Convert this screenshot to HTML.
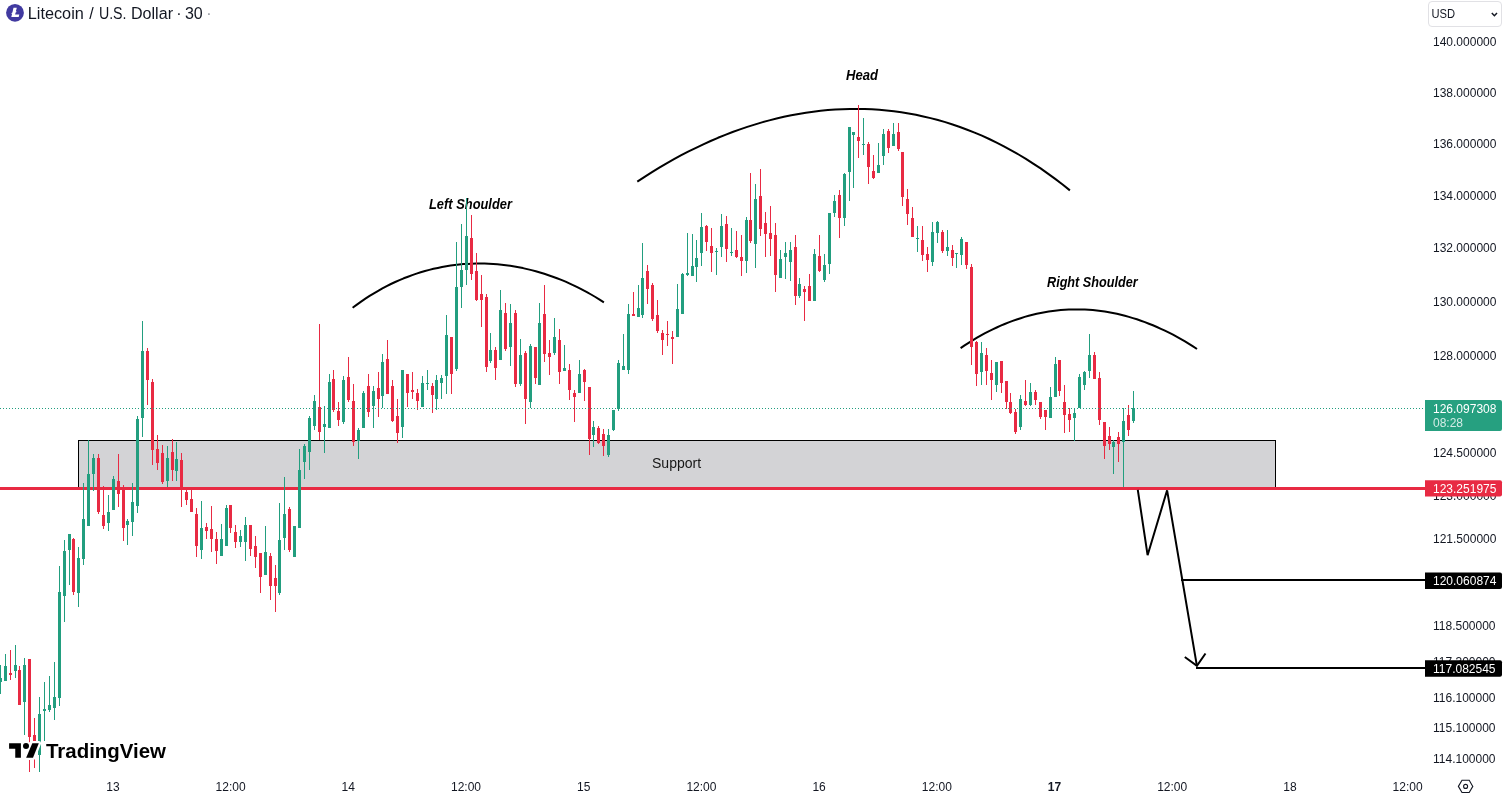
<!DOCTYPE html>
<html lang="en"><head><meta charset="utf-8"><title>Litecoin / U.S. Dollar</title>
<style>
html,body{margin:0;padding:0;background:#fff;}
body{width:1504px;height:796px;overflow:hidden;position:relative;font-family:"Liberation Sans",sans-serif;}
svg{position:absolute;left:0;top:0;display:block;will-change:transform}
text{font-family:"Liberation Sans",sans-serif;}
</style></head><body>
<svg width="1504" height="796" viewBox="0 0 1504 796">
<rect width="1504" height="796" fill="#fff"/>
<!-- axis labels -->
<g font-size="12" fill="#131722"><text x="1433" y="46.0">140.000000</text><text x="1433" y="97.0">138.000000</text><text x="1433" y="148.0">136.000000</text><text x="1433" y="200.0">134.000000</text><text x="1433" y="252.0">132.000000</text><text x="1433" y="306.0">130.000000</text><text x="1433" y="360.0">128.000000</text><text x="1433" y="457.0">124.500000</text><text x="1433" y="500.0">123.000000</text><text x="1433" y="543.0">121.500000</text><text x="1433" y="630.0">118.500000</text><text x="1433" y="666.0">117.300000</text><text x="1433" y="702.3">116.100000</text><text x="1433" y="732.2">115.100000</text><text x="1433" y="762.7">114.100000</text></g>
<g font-size="12" fill="#131722"><text x="112.9" y="791" text-anchor="middle">13</text><text x="230.6" y="791" text-anchor="middle">12:00</text><text x="348.3" y="791" text-anchor="middle">14</text><text x="466.0" y="791" text-anchor="middle">12:00</text><text x="583.7" y="791" text-anchor="middle">15</text><text x="701.4" y="791" text-anchor="middle">12:00</text><text x="819.1" y="791" text-anchor="middle">16</text><text x="936.8" y="791" text-anchor="middle">12:00</text><text x="1054.5" y="791" text-anchor="middle" font-weight="bold">17</text><text x="1172.2" y="791" text-anchor="middle">12:00</text><text x="1289.9" y="791" text-anchor="middle">18</text><text x="1407.6" y="791" text-anchor="middle">12:00</text></g>
<!-- support zone -->
<g shape-rendering="crispEdges">
<rect x="78.5" y="440.5" width="1197" height="48" fill="#d3d3d6" stroke="#000" stroke-width="1"/>
</g>
<text x="652" y="467.8" font-size="14.3" fill="#171717" textLength="49.2" lengthAdjust="spacingAndGlyphs">Support</text>
<!-- red neckline -->
<rect x="0" y="487" width="1425" height="3" fill="#e82a43" shape-rendering="crispEdges"/>
<!-- arcs -->
<g fill="none" stroke="#000" stroke-width="2" stroke-linecap="butt" stroke-linejoin="round">
<path d="M352.6 307.7 L356.9 304.6 L361.1 301.6 L365.4 298.7 L369.6 295.9 L373.9 293.3 L378.2 290.8 L382.4 288.4 L386.7 286.2 L390.9 284.0 L395.2 282.0 L399.5 280.1 L403.7 278.3 L408.0 276.7 L412.2 275.1 L416.5 273.6 L420.7 272.3 L425.0 271.0 L429.3 269.9 L433.5 268.8 L437.8 267.9 L442.0 267.0 L446.3 266.2 L450.6 265.6 L454.8 265.0 L459.1 264.5 L463.3 264.1 L467.6 263.9 L471.9 263.7 L476.1 263.5 L480.4 263.5 L484.6 263.6 L488.9 263.7 L493.2 264.0 L497.4 264.3 L501.7 264.7 L505.9 265.2 L510.2 265.8 L514.5 266.5 L518.7 267.3 L523.0 268.1 L527.2 269.1 L531.5 270.1 L535.8 271.2 L540.0 272.5 L544.3 273.8 L548.5 275.2 L552.8 276.7 L557.0 278.3 L561.3 279.9 L565.6 281.7 L569.8 283.6 L574.1 285.6 L578.3 287.7 L582.6 289.9 L586.9 292.1 L591.1 294.5 L595.4 297.0 L599.6 299.7 L603.9 302.4"/>
<path d="M637.3 181.6 L644.6 176.8 L652.0 172.1 L659.3 167.6 L666.6 163.3 L674.0 159.2 L681.3 155.2 L688.6 151.4 L696.0 147.8 L703.3 144.3 L710.6 141.0 L718.0 137.8 L725.3 134.9 L732.6 132.0 L740.0 129.4 L747.3 126.9 L754.6 124.6 L761.9 122.4 L769.3 120.4 L776.6 118.5 L783.9 116.8 L791.3 115.3 L798.6 113.9 L805.9 112.7 L813.3 111.7 L820.6 110.8 L827.9 110.1 L835.3 109.5 L842.6 109.2 L849.9 109.0 L857.3 108.9 L864.6 109.0 L871.9 109.3 L879.3 109.8 L886.6 110.5 L893.9 111.3 L901.3 112.3 L908.6 113.5 L915.9 114.8 L923.3 116.4 L930.6 118.1 L937.9 120.0 L945.3 122.1 L952.6 124.5 L959.9 127.0 L967.2 129.7 L974.6 132.6 L981.9 135.7 L989.2 139.0 L996.6 142.6 L1003.9 146.3 L1011.2 150.3 L1018.6 154.5 L1025.9 158.9 L1033.2 163.6 L1040.6 168.4 L1047.9 173.6 L1055.2 178.9 L1062.6 184.5 L1069.9 190.4"/>
<path d="M960.6 348.1 L964.6 345.4 L968.6 342.8 L972.6 340.3 L976.6 337.9 L980.6 335.6 L984.6 333.4 L988.6 331.3 L992.7 329.4 L996.7 327.5 L1000.7 325.7 L1004.7 324.0 L1008.7 322.4 L1012.7 320.9 L1016.7 319.5 L1020.7 318.2 L1024.7 316.9 L1028.7 315.8 L1032.7 314.8 L1036.7 313.8 L1040.7 313.0 L1044.7 312.2 L1048.7 311.6 L1052.8 311.0 L1056.8 310.5 L1060.8 310.1 L1064.8 309.8 L1068.8 309.6 L1072.8 309.5 L1076.8 309.4 L1080.8 309.5 L1084.8 309.6 L1088.8 309.8 L1092.8 310.1 L1096.8 310.5 L1100.8 311.0 L1104.8 311.6 L1108.9 312.3 L1112.9 313.0 L1116.9 313.8 L1120.9 314.8 L1124.9 315.8 L1128.9 316.9 L1132.9 318.1 L1136.9 319.3 L1140.9 320.7 L1144.9 322.1 L1148.9 323.7 L1152.9 325.3 L1156.9 327.0 L1160.9 328.8 L1164.9 330.7 L1169.0 332.7 L1173.0 334.7 L1177.0 336.9 L1181.0 339.1 L1185.0 341.4 L1189.0 343.9 L1193.0 346.4 L1197.0 349.0"/>
</g>
<!-- pattern labels -->
<g font-size="14.5" font-weight="bold" font-style="italic" fill="#000">
<text x="429" y="208.8" textLength="83" lengthAdjust="spacingAndGlyphs">Left Shoulder</text>
<text x="846" y="79.7" textLength="32" lengthAdjust="spacingAndGlyphs">Head</text>
<text x="1047" y="286.5" textLength="90.6" lengthAdjust="spacingAndGlyphs">Right Shoulder</text>
</g>
<!-- candles -->
<g shape-rendering="crispEdges">
<path fill="#229e7f" d="M0 665h1v29h-1zM-1 678h3v4h-3zM5 654h1v27h-1zM4 666h3v15h-3zM15 645h1v33h-1zM14 665h3v6h-3zM24 658h1v77h-1zM23 665h3v37h-3zM39 697h1v75h-1zM38 714h3v41h-3zM44 682h1v59h-1zM43 709h3v2h-3zM49 676h1v36h-1zM48 705h3v5h-3zM54 662h1v58h-1zM53 697h3v11h-3zM59 566h1v140h-1zM58 592h3v106h-3zM64 540h1v82h-1zM63 551h3v45h-3zM69 534h1v51h-1zM68 534h3v16h-3zM78 547h1v60h-1zM77 558h3v35h-3zM83 483h1v82h-1zM82 519h3v40h-3zM88 440h1v86h-1zM87 474h3v52h-3zM93 454h1v37h-1zM92 458h3v16h-3zM108 495h1v36h-1zM107 512h3v11h-3zM113 476h1v34h-1zM112 479h3v31h-3zM127 519h1v26h-1zM126 521h3v4h-3zM132 483h1v53h-1zM131 502h3v20h-3zM137 416h1v97h-1zM136 419h3v87h-3zM142 321h1v116h-1zM141 351h3v67h-3zM167 446h1v41h-1zM166 458h3v23h-3zM176 442h1v39h-1zM175 459h3v12h-3zM201 501h1v58h-1zM200 528h3v22h-3zM221 524h1v32h-1zM220 539h3v17h-3zM226 505h1v41h-1zM225 508h3v38h-3zM240 530h1v17h-1zM239 536h3v6h-3zM245 517h1v44h-1zM244 525h3v17h-3zM265 526h1v49h-1zM264 552h3v23h-3zM279 503h1v92h-1zM278 540h3v53h-3zM284 477h1v73h-1zM283 514h3v24h-3zM294 526h1v31h-1zM293 526h3v31h-3zM299 449h1v79h-1zM298 470h3v58h-3zM304 444h1v35h-1zM303 446h3v16h-3zM309 416h1v54h-1zM308 418h3v34h-3zM314 395h1v35h-1zM313 401h3v25h-3zM324 406h1v47h-1zM323 424h3v3h-3zM329 374h1v54h-1zM328 382h3v46h-3zM343 376h1v48h-1zM342 380h3v42h-3zM358 428h1v31h-1zM357 430h3v11h-3zM363 391h1v37h-1zM362 393h3v35h-3zM373 386h1v42h-1zM372 391h3v15h-3zM382 354h1v54h-1zM381 362h3v34h-3zM402 370h1v68h-1zM401 370h3v57h-3zM422 376h1v31h-1zM421 383h3v24h-3zM427 370h1v20h-1zM426 383h3v1h-3zM436 375h1v35h-1zM435 380h3v19h-3zM441 375h1v24h-1zM440 378h3v5h-3zM446 315h1v79h-1zM445 335h3v41h-3zM456 242h1v129h-1zM455 287h3v82h-3zM461 224h1v84h-1zM460 270h3v17h-3zM466 198h1v87h-1zM465 236h3v34h-3zM490 333h1v30h-1zM489 350h3v11h-3zM500 290h1v70h-1zM499 310h3v50h-3zM510 304h1v62h-1zM509 323h3v24h-3zM520 339h1v47h-1zM519 355h3v29h-3zM530 344h1v64h-1zM529 346h3v56h-3zM539 303h1v82h-1zM538 323h3v62h-3zM554 318h1v37h-1zM553 337h3v16h-3zM564 345h1v26h-1zM563 368h3v3h-3zM579 360h1v33h-1zM578 374h3v19h-3zM593 421h1v26h-1zM592 427h3v8h-3zM608 429h1v28h-1zM607 435h3v20h-3zM613 410h1v21h-1zM612 410h3v20h-3zM618 360h1v51h-1zM617 363h3v46h-3zM623 334h1v36h-1zM622 366h3v4h-3zM628 304h1v70h-1zM627 314h3v56h-3zM638 285h1v32h-1zM637 308h3v9h-3zM642 243h1v75h-1zM641 278h3v37h-3zM677 284h1v53h-1zM676 309h3v28h-3zM682 273h1v41h-1zM681 274h3v40h-3zM687 233h1v43h-1zM686 273h3v2h-3zM692 234h1v42h-1zM691 266h3v10h-3zM696 240h1v42h-1zM695 258h3v9h-3zM701 213h1v53h-1zM700 227h3v26h-3zM716 248h1v27h-1zM715 251h3v1h-3zM721 214h1v43h-1zM720 226h3v21h-3zM731 228h1v28h-1zM730 252h3v1h-3zM746 217h1v56h-1zM745 220h3v41h-3zM755 184h1v84h-1zM754 199h3v45h-3zM780 250h1v28h-1zM779 259h3v19h-3zM785 242h1v37h-1zM784 253h3v4h-3zM790 242h1v39h-1zM789 250h3v12h-3zM799 278h1v20h-1zM798 284h3v12h-3zM814 249h1v52h-1zM813 254h3v47h-3zM824 254h1v28h-1zM823 265h3v15h-3zM829 213h1v61h-1zM828 213h3v51h-3zM834 195h1v22h-1zM833 201h3v12h-3zM844 173h1v53h-1zM843 174h3v44h-3zM849 127h1v74h-1zM848 127h3v45h-3zM853 132h1v56h-1zM852 132h3v3h-3zM863 118h1v37h-1zM862 144h3v1h-3zM878 143h1v30h-1zM877 165h3v8h-3zM883 129h1v36h-1zM882 134h3v22h-3zM893 123h1v23h-1zM892 134h3v12h-3zM917 226h1v26h-1zM916 238h3v1h-3zM932 222h1v44h-1zM931 232h3v30h-3zM937 221h1v22h-1zM936 222h3v11h-3zM947 230h1v26h-1zM946 247h3v4h-3zM956 253h1v15h-1zM955 253h3v1h-3zM961 237h1v28h-1zM960 239h3v16h-3zM981 342h1v43h-1zM980 353h3v19h-3zM996 362h1v30h-1zM995 362h3v23h-3zM1020 395h1v35h-1zM1019 399h3v28h-3zM1030 383h1v23h-1zM1029 392h3v13h-3zM1050 387h1v31h-1zM1049 397h3v21h-3zM1055 357h1v40h-1zM1054 364h3v33h-3zM1074 408h1v33h-1zM1073 413h3v5h-3zM1079 374h1v34h-1zM1078 377h3v31h-3zM1084 371h1v19h-1zM1083 372h3v13h-3zM1089 334h1v44h-1zM1088 355h3v16h-3zM1113 440h1v34h-1zM1112 442h3v5h-3zM1123 408h1v79h-1zM1122 421h3v21h-3zM1133 391h1v32h-1zM1132 408h3v13h-3z"/>
<path fill="#e82a43" d="M10 650h1v30h-1zM9 673h3v2h-3zM19 666h1v39h-1zM18 670h3v35h-3zM29 659h1v113h-1zM28 659h3v78h-3zM34 718h1v50h-1zM33 735h3v6h-3zM73 538h1v57h-1zM72 539h3v53h-3zM98 454h1v60h-1zM97 458h3v54h-3zM103 486h1v43h-1zM102 515h3v11h-3zM118 454h1v53h-1zM117 481h3v13h-3zM123 485h1v56h-1zM122 488h3v40h-3zM147 348h1v57h-1zM146 351h3v29h-3zM152 379h1v86h-1zM151 382h3v68h-3zM157 435h1v35h-1zM156 449h3v14h-3zM162 445h1v39h-1zM161 453h3v29h-3zM172 439h1v42h-1zM171 452h3v18h-3zM181 453h1v54h-1zM180 460h3v28h-3zM186 489h1v16h-1zM185 492h3v8h-3zM191 490h1v22h-1zM190 499h3v13h-3zM196 508h1v49h-1zM195 514h3v32h-3zM206 523h1v16h-1zM205 527h3v4h-3zM211 506h1v46h-1zM210 529h3v10h-3zM216 532h1v32h-1zM215 539h3v12h-3zM230 505h1v28h-1zM229 505h3v23h-3zM235 525h1v23h-1zM234 532h3v10h-3zM250 525h1v31h-1zM249 525h3v24h-3zM255 536h1v32h-1zM254 546h3v11h-3zM260 553h1v40h-1zM259 553h3v24h-3zM270 553h1v47h-1zM269 556h3v30h-3zM275 565h1v47h-1zM274 578h3v8h-3zM289 507h1v45h-1zM288 509h3v41h-3zM319 324h1v116h-1zM318 407h3v25h-3zM333 370h1v42h-1zM332 379h3v31h-3zM338 402h1v24h-1zM337 411h3v9h-3zM348 357h1v45h-1zM347 377h3v23h-3zM353 384h1v62h-1zM352 401h3v41h-3zM368 374h1v43h-1zM367 386h3v26h-3zM378 372h1v45h-1zM377 388h3v11h-3zM387 340h1v54h-1zM386 359h3v35h-3zM392 380h1v42h-1zM391 386h3v35h-3zM397 399h1v44h-1zM396 416h3v17h-3zM407 374h1v33h-1zM406 374h3v19h-3zM412 372h1v27h-1zM411 390h3v2h-3zM417 389h1v21h-1zM416 393h3v8h-3zM432 383h1v30h-1zM431 386h3v9h-3zM451 337h1v57h-1zM450 337h3v37h-3zM471 215h1v65h-1zM470 238h3v36h-3zM476 253h1v48h-1zM475 271h3v29h-3zM481 275h1v52h-1zM480 294h3v6h-3zM486 294h1v78h-1zM485 297h3v70h-3zM495 347h1v33h-1zM494 350h3v18h-3zM505 303h1v48h-1zM504 313h3v36h-3zM515 310h1v77h-1zM514 313h3v71h-3zM525 351h1v73h-1zM524 353h3v46h-3zM535 347h1v37h-1zM534 347h3v31h-3zM544 285h1v77h-1zM543 314h3v40h-3zM549 340h1v35h-1zM548 353h3v4h-3zM559 329h1v55h-1zM558 340h3v32h-3zM569 364h1v36h-1zM568 370h3v20h-3zM574 390h1v32h-1zM573 393h3v4h-3zM584 369h1v32h-1zM583 370h3v12h-3zM589 387h1v68h-1zM588 387h3v52h-3zM598 426h1v18h-1zM597 428h3v15h-3zM603 429h1v27h-1zM602 434h3v12h-3zM633 292h1v24h-1zM632 314h3v2h-3zM647 265h1v39h-1zM646 271h3v18h-3zM652 283h1v38h-1zM651 285h3v34h-3zM657 300h1v33h-1zM656 315h3v16h-3zM662 330h1v25h-1zM661 333h3v7h-3zM667 321h1v25h-1zM666 334h3v1h-3zM672 331h1v33h-1zM671 337h3v2h-3zM706 225h1v26h-1zM705 226h3v16h-3zM711 228h1v44h-1zM710 246h3v7h-3zM726 216h1v46h-1zM725 224h3v25h-3zM736 231h1v27h-1zM735 250h3v7h-3zM741 235h1v41h-1zM740 257h3v4h-3zM750 173h1v70h-1zM749 220h3v21h-3zM760 169h1v67h-1zM759 196h3v33h-3zM765 212h1v45h-1zM764 223h3v11h-3zM770 206h1v50h-1zM769 233h3v6h-3zM775 223h1v69h-1zM774 235h3v40h-3zM795 235h1v70h-1zM794 247h3v49h-3zM804 286h1v35h-1zM803 289h3v3h-3zM809 274h1v27h-1zM808 286h3v15h-3zM819 235h1v37h-1zM818 256h3v15h-3zM839 190h1v48h-1zM838 195h3v23h-3zM858 105h1v53h-1zM857 137h3v4h-3zM868 142h1v42h-1zM867 144h3v23h-3zM873 155h1v24h-1zM872 171h3v7h-3zM888 129h1v24h-1zM887 131h3v17h-3zM898 123h1v28h-1zM897 132h3v17h-3zM902 152h1v54h-1zM901 152h3v45h-3zM907 189h1v36h-1zM906 199h3v15h-3zM912 207h1v30h-1zM911 218h3v19h-3zM922 226h1v35h-1zM921 240h3v15h-3zM927 247h1v25h-1zM926 254h3v6h-3zM942 230h1v23h-1zM941 232h3v19h-3zM952 245h1v21h-1zM951 250h3v8h-3zM966 242h1v27h-1zM965 242h3v23h-3zM971 264h1v101h-1zM970 267h3v80h-3zM976 341h1v45h-1zM975 342h3v32h-3zM986 348h1v37h-1zM985 355h3v16h-3zM991 360h1v40h-1zM990 373h3v7h-3zM1001 361h1v32h-1zM1000 361h3v22h-3zM1006 381h1v28h-1zM1005 381h3v21h-3zM1010 393h1v21h-1zM1009 402h3v11h-3zM1015 409h1v25h-1zM1014 412h3v20h-3zM1025 380h1v26h-1zM1024 401h3v4h-3zM1035 390h1v15h-1zM1034 392h3v8h-3zM1040 402h1v17h-1zM1039 402h3v15h-3zM1045 410h1v20h-1zM1044 410h3v7h-3zM1059 360h1v36h-1zM1058 360h3v31h-3zM1064 385h1v48h-1zM1063 402h3v13h-3zM1069 408h1v24h-1zM1068 414h3v6h-3zM1094 352h1v27h-1zM1093 355h3v24h-3zM1099 372h1v53h-1zM1098 378h3v42h-3zM1104 422h1v37h-1zM1103 422h3v24h-3zM1109 427h1v23h-1zM1108 436h3v8h-3zM1118 432h1v30h-1zM1117 437h3v7h-3zM1128 405h1v31h-1zM1127 415h3v15h-3z"/>
</g>
<!-- last price dotted line -->
<line x1="0" y1="408.5" x2="1425" y2="408.5" stroke="#229e7f" stroke-width="1" stroke-dasharray="1 2" shape-rendering="crispEdges"/>
<!-- projection -->
<g fill="none" stroke="#000" stroke-width="2" stroke-linejoin="miter">
<path d="M1137.8 489.9 L1147.6 555.2 L1167.1 490.3 L1196.9 665.8"/>
<path d="M1184.8 657 L1196.9 665.8 L1205.5 653.5"/>
<path d="M1181 580 H1425"/>
<path d="M1196 668 H1425"/>
</g>
<!-- price labels -->
<path d="M1425 400h75a2 2 0 0 1 2 2v27a2 2 0 0 1 -2 2h-75z" fill="#26a080"/>
<g font-size="12" fill="#fff"><text x="1433" y="412.8">126.097308</text><text x="1433" y="426.8" fill-opacity="0.8">08:28</text></g>
<path d="M1425 480.2h75a2 2 0 0 1 2 2v12.4a2 2 0 0 1 -2 2h-75z" fill="#e82a43"/>
<text x="1433" y="493" font-size="12" fill="#fff">123.251975</text>
<path d="M1425 572.5h75a2 2 0 0 1 2 2v12.4a2 2 0 0 1 -2 2h-75z" fill="#000"/>
<text x="1433" y="585.2" font-size="12" fill="#fff">120.060874</text>
<path d="M1425 660.3h75a2 2 0 0 1 2 2v12.5a2 2 0 0 1 -2 2h-75z" fill="#000"/>
<text x="1433" y="673" font-size="12" fill="#fff">117.082545</text>
<!-- USD box -->
<rect x="1428.5" y="1.5" width="73" height="25" rx="3.5" fill="#fff" stroke="#e1e1e5"/>
<text x="1431.4" y="17.6" font-size="12" fill="#131722" textLength="23.6" lengthAdjust="spacingAndGlyphs">USD</text>
<path d="M1491.8 13l2.6 2.7l2.6 -2.7" fill="none" stroke="#131722" stroke-width="1.5"/>
<!-- gear/hex icon -->
<g fill="none" stroke="#131722" stroke-width="1.1">
<path d="M1458.4 786.4l3.6 -6.1h7.2l3.6 6.1l-3.6 6.1h-7.2z"/>
<circle cx="1465.6" cy="786.4" r="2"/>
</g>
<!-- title -->
<circle cx="15" cy="12.8" r="8.9" fill="#413aa0"/>
<path d="M13.5 7.8H16.8L15.9 11.2L16.5 11L16.2 12.2L15.6 12.5L15.1 14.6H19.3L18.7 17.1H11.3L12.1 13.8L11.4 14.1L11.7 12.9L12.4 12.6Z" fill="#fff"/>
<g font-size="16" fill="#131722">
<text x="27.8" y="18.6" textLength="56" lengthAdjust="spacingAndGlyphs">Litecoin</text>
<text x="89.3" y="18.6">/</text>
<text x="98.9" y="18.6" textLength="27.6" lengthAdjust="spacingAndGlyphs">U.S.</text>
<text x="131" y="18.6" textLength="42" lengthAdjust="spacingAndGlyphs">Dollar</text>
<text x="178.8" y="18.6" text-anchor="middle">·</text>
<text x="184.9" y="18.6" textLength="17.8" lengthAdjust="spacingAndGlyphs">30</text>
<text x="208.8" y="18.6" text-anchor="middle" fill="#9598a1">·</text>
</g>
<!-- TradingView logo -->
<g stroke="#fff" stroke-width="4.6" stroke-linejoin="round" fill="#fff">
<path d="M9.1 743.2h11.8v14.6h-5.65v-9.1h-6.15z"/><circle cx="26" cy="746" r="3"/><path d="M32.3 743.2h6.5l-5.8 14.6h-6.85z"/>
<text x="46" y="757.8" font-size="20" font-weight="bold" textLength="120" lengthAdjust="spacingAndGlyphs">TradingView</text>
</g>
<g fill="#000">
<path d="M9.1 743.2h11.8v14.6h-5.65v-9.1h-6.15z"/><circle cx="26" cy="746" r="3"/><path d="M32.3 743.2h6.5l-5.8 14.6h-6.85z"/>
<text x="46" y="757.8" font-size="20" font-weight="bold" textLength="120" lengthAdjust="spacingAndGlyphs">TradingView</text>
</g>
</svg>
</body></html>
